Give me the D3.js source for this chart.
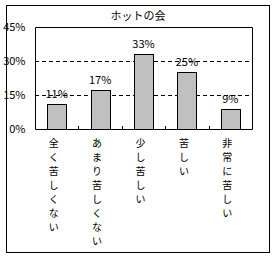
<!DOCTYPE html>
<html>
<head>
<meta charset="utf-8">
<script src="https://cdn.jsdelivr.net/npm/d3@7"></script>
<style>
	body { margin: 0; background: #fff; }
	text { font-family: "Noto Sans CJK JP", sans-serif; fill: #000; }
</style>
</head>
<body>
<div id="chart"></div>
<script>
// dati del grafico
var title = "ホットの会";
var categories = ["全く苦しくない", "あまり苦しくない", "少し苦しい", "苦しい", "非常に苦しい"];
var values = [11, 17, 33, 25, 9];
var yTicks = [0, 15, 30, 45];

var width = 276;
var height = 259;

var svg = d3.select("#chart").append("svg")
	.attr("width", width)
	.attr("height", height);

// cornice esterna
svg.append("rect")
	.attr("x", 6.5).attr("y", 5.5)
	.attr("width", 263).attr("height", 247)
	.attr("fill", "#fff")
	.attr("stroke", "#000");

svg.append("text")
	.attr("x", 138).attr("y", 20)
	.attr("text-anchor", "middle")
	.style("font-size", "11px")
	.text(title);

var x = d3.scaleBand()
	.domain(categories)
	.range([35, 252]);

var y = d3.scaleLinear()
	.domain([0, 45])
	.range([129, 27]);

// griglia tratteggiata
svg.selectAll(".grid")
	.data(yTicks.filter(function(d) { return d > 0 && d < 45; }))
	.enter()
	.append("line")
	.attr("x1", 35).attr("x2", 252)
	.attr("y1", function(d) { return Math.round(y(d)) + 0.5; })
	.attr("y2", function(d) { return Math.round(y(d)) + 0.5; })
	.attr("stroke", "#000")
	.attr("stroke-dasharray", "4,3");

// barre
var bw = x.bandwidth() * 0.44;
svg.selectAll(".bar")
	.data(values)
	.enter()
	.append("rect")
	.attr("x", function(d, i) { return Math.round(x(categories[i]) + x.bandwidth() / 2 - bw / 2) + 0.5; })
	.attr("y", function(d) { return Math.round(y(d)) + 0.5; })
	.attr("width", Math.round(bw))
	.attr("height", function(d) { return Math.round(y(0)) - Math.round(y(d)); })
	.attr("fill", "#c0c0c0")
	.attr("stroke", "#000");

// etichette valori
svg.selectAll(".val")
	.data(values)
	.enter()
	.append("text")
	.attr("x", function(d, i) { return x(categories[i]) + x.bandwidth() / 2; })
	.attr("y", function(d) { return y(d) - 6; })
	.attr("text-anchor", "middle")
	.style("font-size", "11px")
	.text(function(d) { return d + "%"; });

// riquadro area del grafico
svg.append("path")
	.attr("d", "M35.5,129.5V27.5H252.5V129.5Z")
	.attr("fill", "none")
	.attr("stroke", "#000");

// asse y
var yAxis = svg.append("g")
	.attr("transform", "translate(35.5,0)")
	.call(d3.axisLeft(y).tickValues(yTicks).tickSize(0).tickPadding(10)
		.tickFormat(function(d) { return d + "%"; }));
yAxis.select(".domain").remove();
yAxis.selectAll("text")
	.style("font-family", "\"Noto Sans CJK JP\", sans-serif")
	.style("font-size", "11px")
	.attr("fill", "#000");

// tacche tra le categorie
svg.selectAll(".tick-in")
	.data(categories.slice(1))
	.enter()
	.append("line")
	.attr("x1", function(d) { return Math.round(x(d)) + 0.5; })
	.attr("x2", function(d) { return Math.round(x(d)) + 0.5; })
	.attr("y1", 126).attr("y2", 129)
	.attr("stroke", "#000");

// etichette categorie verticali, un carattere per riga
categories.forEach(function(c) {
	var cx = x(c) + x.bandwidth() / 2 - 3;
	svg.selectAll(null)
		.data(c.split(""))
		.enter()
		.append("text")
		.attr("x", cx)
		.attr("y", function(ch, j) { return 143 + j * 14; })
		.attr("dy", "0.35em")
		.attr("text-anchor", "middle")
		.style("font-size", "10px")
		.text(function(ch) { return ch; });
});
</script>
</body>
</html>
